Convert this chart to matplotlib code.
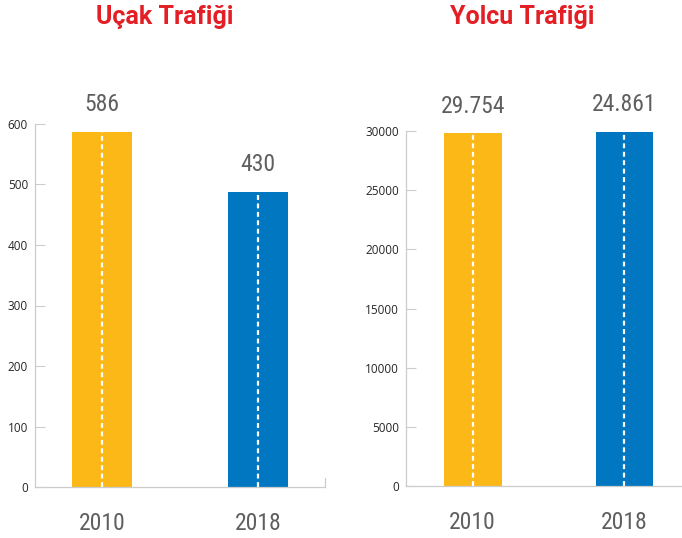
import matplotlib
matplotlib.use("Agg")
import matplotlib.pyplot as plt

years = ["2010", "2018"]
# bar heights as drawn in the picture
ucak_bars = [587, 488]
ucak_labels = ["586", "430"]
yolcu_bars = [29800, 29950]
yolcu_labels = ["29.754", "24.861"]

colors = ["#FBB817", "#0077C0"]
red = "#E31E24"
gray = "#5f5f5f"
axis_gray = "#cccccc"
num_font = ["Roboto Condensed", "Liberation Sans Narrow", "Roboto", "DejaVu Sans"]

fig = plt.figure(figsize=(6.82, 5.38), dpi=100)

ax1 = fig.add_axes([35 / 682, 51 / 538, 290 / 682, 363 / 538])
ax2 = fig.add_axes([406 / 682, 52 / 538, 276 / 682, 355 / 538])


def draw(ax, bars, labels, ymax, step, xlim):
    x = [0, 1]
    ax.bar(x, bars, width=0.38, color=colors, zorder=2)
    for xi, h in zip(x, bars):
        ax.plot([xi, xi], [0, h], color="white", lw=1.6, dashes=(2.2, 1.6), zorder=3)
    for xi, h, lab in zip(x, bars, labels):
        ax.annotate(lab, (xi, h), xytext=(0, 19.5), textcoords="offset points",
                    ha="center", va="center", fontsize=17, color=gray, family=num_font)
    ax.set_xlim(*xlim)
    ax.set_ylim(0, ymax)
    ax.set_yticks(range(0, ymax + 1, step))
    ax.set_xticks([])
    for xi, yr in zip(x, years):
        ax.annotate(yr, (xi, 0), xytext=(0, -26), textcoords="offset points",
                    ha="center", va="center", fontsize=17, color=gray, family=num_font)
    ax.tick_params(axis="y", direction="in", length=7, width=0.8, color=axis_gray,
                   labelsize=8.5, labelcolor="#262626", pad=5)
    for lab in ax.get_yticklabels():
        lab.set_family(["Open Sans", "DejaVu Sans"])
    ax.spines["top"].set_visible(False)
    ax.spines["right"].set_visible(False)
    for s in ["left", "bottom"]:
        ax.spines[s].set_color(axis_gray)
        ax.spines[s].set_linewidth(0.9)


draw(ax1, ucak_bars, ucak_labels, 600, 100, (-0.43, 1.43))
draw(ax2, yolcu_bars, yolcu_labels, 30000, 5000, (-0.44, 1.38))

# small closing tick at the right end of the left chart
ax1.spines["right"].set_visible(True)
ax1.spines["right"].set_bounds(0, 15)
ax1.spines["right"].set_color(axis_gray)
ax1.spines["right"].set_linewidth(0.9)

title_font = ["Roboto", "DejaVu Sans"]
fig.text(165 / 682, 1 - 17 / 538, "Uçak Trafiği", ha="center", va="center",
         fontsize=18, fontweight="bold", color=red, family=title_font)
fig.text(522 / 682, 1 - 17 / 538, "Yolcu Trafiği", ha="center", va="center",
         fontsize=18, fontweight="bold", color=red, family=title_font)

fig.savefig("out.png", dpi=100)
